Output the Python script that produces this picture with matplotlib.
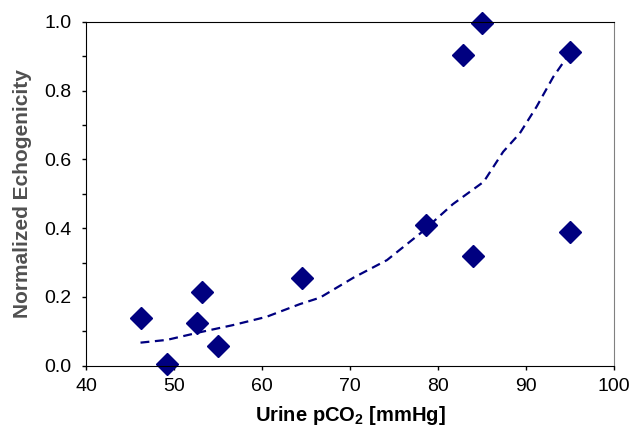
import numpy as np
import matplotlib
matplotlib.use('Agg')
import matplotlib.pyplot as plt
from matplotlib.ticker import MultipleLocator

plt.rcParams['font.family'] = ['Liberation Sans', 'DejaVu Sans']
plt.rcParams['mathtext.fontset'] = 'custom'
plt.rcParams['mathtext.rm'] = 'Liberation Sans'
plt.rcParams['mathtext.bf'] = 'Liberation Sans:bold'

# measured points
pco2 = [46.2, 49.2, 52.6, 53.2, 55.0, 64.6, 78.6, 82.9, 84.0, 85.0, 95.0, 95.0]
echo = [0.138, 0.005, 0.123, 0.215, 0.058, 0.256, 0.409, 0.905, 0.319, 0.998, 0.911, 0.388]

# trendline
trend_x = [46.2, 49.2, 52.9, 56.7, 60.5, 64.3, 66.6, 70.4, 74.2, 78.0, 81.7, 85.2, 87.4, 89.3, 91.2, 93.1, 95.0]
trend_y = [0.067, 0.075, 0.097, 0.118, 0.142, 0.179, 0.198, 0.256, 0.307, 0.385, 0.47, 0.535, 0.622, 0.676, 0.753, 0.84, 0.91]

fig = plt.figure(figsize=(6.32, 4.29), dpi=100)
ax = fig.add_axes([0.136, 0.1476, 0.8355, 0.8014])

ax.plot(trend_x, trend_y, color='#000080', linestyle=(0, (4, 2.5)), linewidth=1.6)
ax.plot(pco2, echo, linestyle='none', marker='D', markersize=11.5, color='#000080', clip_on=False)

ax.set_xlim(40, 100)
ax.set_ylim(0, 1.0)
ax.xaxis.set_major_locator(MultipleLocator(10))
ax.yaxis.set_major_locator(MultipleLocator(0.2))
ax.yaxis.set_minor_locator(MultipleLocator(0.1))
ax.yaxis.set_major_formatter(matplotlib.ticker.FormatStrFormatter('%.1f'))
ax.tick_params(axis='both', which='both', direction='out', length=3, width=1, labelsize=14)
ax.tick_params(axis='x', pad=6)
ax.tick_params(axis='y', pad=7.5)

for s in ['left', 'bottom', 'top']:
    ax.spines[s].set_color('black')
ax.spines['right'].set_color('#808080')

ax.set_xlabel(r'Urine pCO$_\mathbf{2}$ [mmHg]', fontsize=14.5, fontweight='bold', labelpad=6)
ax.set_ylabel('Normalized Echogenicity', fontsize=15, fontweight='bold', color='#505050')
ax.yaxis.set_label_coords(-0.103, 0.5)

fig.savefig('out.png', dpi=100)
